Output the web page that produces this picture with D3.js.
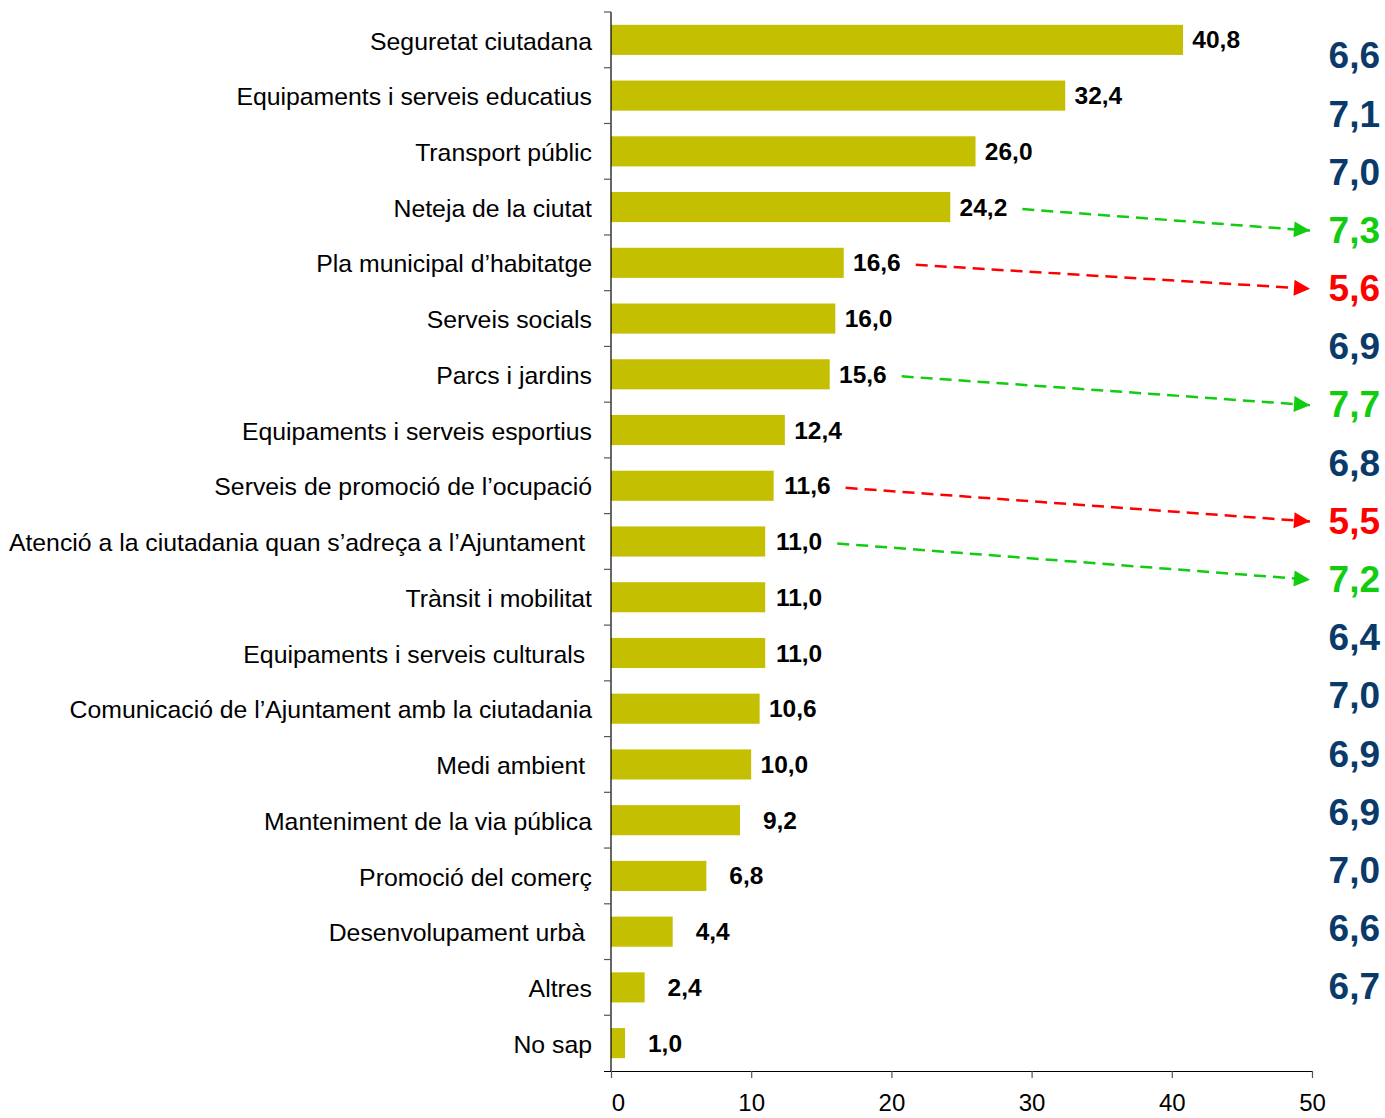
<!DOCTYPE html>
<html><head><meta charset="utf-8">
<script src="https://cdn.jsdelivr.net/npm/d3@7"></script>
<style>
html,body{margin:0;padding:0;background:#fff;}
text{font-family:"Liberation Sans",Arial,sans-serif;}
</style></head>
<body>
<svg id="chart" width="1385" height="1118"></svg>
<script>
const categories = [
  "Seguretat ciutadana",
  "Equipaments i serveis educatius",
  "Transport públic",
  "Neteja de la ciutat",
  "Pla municipal d’habitatge",
  "Serveis socials",
  "Parcs i jardins",
  "Equipaments i serveis esportius",
  "Serveis de promoció de l’ocupació",
  "Atenció a la ciutadania quan s’adreça a l’Ajuntament ",
  "Trànsit i mobilitat",
  "Equipaments i serveis culturals ",
  "Comunicació de l’Ajuntament amb la ciutadania",
  "Medi ambient ",
  "Manteniment de la via pública",
  "Promoció del comerç",
  "Desenvolupament urbà ",
  "Altres",
  "No sap"
];
const percentages = [40.8, 32.4, 26.0, 24.2, 16.6, 16.0, 15.6, 12.4, 11.6, 11.0, 11.0, 11.0, 10.6, 10.0, 9.2, 6.8, 4.4, 2.4, 1.0];
// satisfaction scores, for the first 17 categories
const scores = [6.6, 7.1, 7.0, 7.3, 5.6, 6.9, 7.7, 6.8, 5.5, 7.2, 6.4, 7.0, 6.9, 6.9, 7.0, 6.6, 6.7];
// highlight: "up" (green) / "down" (red) / null
const highlight = [null, null, null, "up", "down", null, "up", null, "down", "up", null, null, null, null, null, null, null];
const xTicks = [0, 10, 20, 30, 40, 50];

const fmt = v => v.toFixed(1).replace(".", ",");
const colors = { up: "#11cc11", down: "#ff0000", none: "#0a3a6a" };

const svg = d3.select("#chart");
const x = d3.scaleLinear().domain([0, 50]).range([611, 1312]);
const y = d3.scaleBand().domain(categories).range([12, 1071]).paddingInner(0.46).paddingOuter(0.23);
const yB = d3.scaleBand().domain(categories).range([12, 1071]);
const scoreCats = categories.slice(0, scores.length);
const yR = d3.scalePoint().domain(scoreCats).range([55, 986]);

// bars
svg.append("g").selectAll("rect").data(categories).join("rect")
  .attr("x", x(0)).attr("y", d => y(d))
  .attr("width", (d, i) => x(percentages[i]) - x(0))
  .attr("height", y.bandwidth())
  .attr("fill", "#c4bf00");

// bar value labels
svg.append("g").selectAll("text").data(categories).join("text")
  .attr("x", (d, i) => x(percentages[i]) + 57)
  .attr("y", d => y(d) + y.bandwidth() / 2)
  .attr("dy", "0.35em")
  .attr("text-anchor", "end")
  .attr("font-size", 24.5).attr("font-weight", "bold").attr("fill", "#000")
  .text((d, i) => fmt(percentages[i]));

// left axis
const yAxisG = svg.append("g");
yAxisG.append("line").attr("x1", x(0)).attr("x2", x(0)).attr("y1", 12).attr("y2", 1071)
  .attr("stroke", "#000").attr("stroke-width", 1.2);
const bounds = categories.map(d => yB(d));
yAxisG.selectAll("line.t").data(bounds).join("line").attr("class", "t")
  .attr("x1", x(0) - 7).attr("x2", x(0)).attr("y1", d => d).attr("y2", d => d)
  .attr("stroke", "#555").attr("stroke-width", 1.2);

// category labels
svg.append("g").selectAll("text").data(categories).join("text")
  .attr("x", 592)
  .attr("y", d => yB(d) + yB.bandwidth() / 2 + 1)
  .attr("dy", "0.35em")
  .attr("text-anchor", "end")
  .attr("font-size", 24.8).attr("fill", "#000")
  .style("white-space", "pre")
  .text(d => d);

// bottom axis
const xAxis = d3.axisBottom(x).tickValues(xTicks).tickSize(7).tickSizeOuter(0).tickPadding(16);
const xg = svg.append("g").attr("transform", "translate(0,1071)").call(xAxis);
xg.select(".domain").attr("stroke", "#000").attr("stroke-width", 1.2).attr("d", `M${x(0) - 7},0.5H${x(50)}`);
xg.selectAll(".tick line").attr("stroke", "#555").attr("stroke-width", 1.2);
xg.selectAll(".tick text").attr("font-size", 24).attr("fill", "#000")
  .attr("font-family", "Liberation Sans, Arial, sans-serif")
  .attr("dx", d => d === 0 ? 7 : 0);

// score values
svg.append("g").selectAll("text").data(scoreCats).join("text")
  .attr("x", 1380)
  .attr("y", d => yR(d))
  .attr("dy", "0.36em")
  .attr("text-anchor", "end")
  .attr("font-size", 37).attr("font-weight", "bold")
  .attr("fill", (d, i) => colors[highlight[i] || "none"])
  .text((d, i) => fmt(scores[i]));

// arrows
const defs = svg.append("defs");
["up", "down"].forEach(k => {
  defs.append("marker").attr("id", "arr-" + k)
    .attr("viewBox", "0 0 10 10").attr("refX", 10).attr("refY", 5)
    .attr("markerWidth", 18).attr("markerHeight", 16).attr("markerUnits", "userSpaceOnUse")
    .attr("orient", "auto")
    .append("path").attr("d", "M0,0L10,5L0,10Z").attr("fill", colors[k]);
});
const arrowIdx = highlight.map((h, i) => h ? i : -1).filter(i => i >= 0);
svg.append("g").selectAll("line").data(arrowIdx).join("line")
  .attr("x1", i => x(percentages[i]) + 72)
  .attr("y1", i => y(categories[i]) + y.bandwidth() / 2 + 2)
  .attr("x2", 1310)
  .attr("y2", i => yR(categories[i]) + 1)
  .attr("stroke", i => colors[highlight[i]])
  .attr("stroke-width", 2.5)
  .attr("stroke-dasharray", "12,7")
  .attr("marker-end", i => `url(#arr-${highlight[i]})`);
</script>
</body></html>
